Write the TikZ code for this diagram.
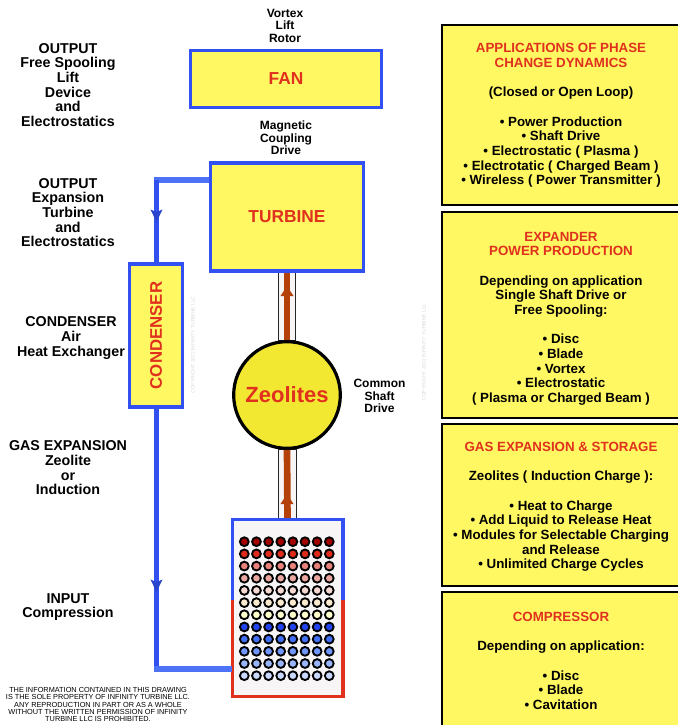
\documentclass[tikz,border=0pt]{standalone}
\usepackage{fontspec}
\setmainfont{Liberation Sans}
\definecolor{panelY}{HTML}{FFF862}
\definecolor{boxBlue}{HTML}{3350F2}
\definecolor{flowBlue}{HTML}{3150F0}
\definecolor{pipeLt}{HTML}{4D72F5}
\definecolor{txtRed}{HTML}{E0301E}
\definecolor{shaftC}{HTML}{B5410A}
\definecolor{ballY}{HTML}{F2E832}
\definecolor{tubeC}{HTML}{F7F5F5}
\definecolor{cmpR}{HTML}{E0301E}
\pgfdeclarelayer{bg}
\pgfsetlayers{bg,main}
\tikzset{
 x=0.75pt,y=-0.75pt,
 yblock/.style={draw=boxBlue,line width=2.6pt,fill=panelY,inner sep=0pt,align=center,font=\fontsize{13}{15}\bfseries\selectfont,text=txtRed},
 panelframe/.style={draw=black,line width=2pt},
 ptxt/.style={align=center,font=\fontsize{10}{11}\bfseries\selectfont,text=black,inner sep=0pt},
 ltxt/.style={align=center,font=\fontsize{10.7}{11}\bfseries\selectfont,text=black,inner sep=0pt},
 stxt/.style={align=center,font=\fontsize{9}{9.4}\bfseries\selectfont,text=black,inner sep=0pt},
 flow/.style={draw=flowBlue,line width=3.75pt},
 flowlt/.style={draw=pipeLt,line width=4.3pt},
 tube/.style={draw=black!85,line width=0.7pt,fill=tubeC},
 shaft/.style={draw=shaftC,line width=5pt},
 shafttip/.style={fill=shaftC,draw=none},
 flowtip/.style={fill=flowBlue!85!black,draw=none},
 dot/.style={circle,draw=black,line width=1.4pt,minimum size=6.6pt,inner sep=0pt},
 copyr/.style={rotate=90,font=\fontsize{3.7}{4}\selectfont,inner sep=0pt,text=black!15},
}
\begin{document}
\begin{tikzpicture}
\path[use as bounding box] (0,0) rectangle (678,725);
\clip (0,0) rectangle (678,725);
\begin{pgfonlayer}{bg}
\fill[white] (0,0) rectangle (678,725);
\end{pgfonlayer}

% right panels
\fill[panelY] (442,25) rectangle (690,205);
\draw[panelframe] (690,25) -- (442,25) -- (442,205) -- (690,205);
\fill[panelY] (442,212) rectangle (690,418);
\draw[panelframe] (690,212) -- (442,212) -- (442,418) -- (690,418);
\fill[panelY] (442,424) rectangle (690,586);
\draw[panelframe] (690,424) -- (442,424) -- (442,586) -- (690,586);
\fill[panelY] (442,592) rectangle (690,735);
\draw[panelframe] (690,592) -- (442,592) -- (442,735);

\node[ptxt] (p1) at (561,115.5) {\textcolor{txtRed}{APPLICATIONS OF PHASE}\\\textcolor{txtRed}{CHANGE DYNAMICS}\\[11pt](Closed or Open Loop)\\[11pt]• Power Production\\• Shaft Drive\\• Electrostatic ( Plasma )\\• Electrotatic ( Charged Beam )\\• Wireless ( Power Transmitter )};
\node[ptxt] (p2) at (561,318.5) {\textcolor{txtRed}{EXPANDER}\\\textcolor{txtRed}{POWER PRODUCTION}\\[11pt]Depending on application\\Single Shaft Drive or\\Free Spooling:\\[11pt]• Disc\\• Blade\\• Vortex\\• Electrostatic\\( Plasma or Charged Beam )};
\node[ptxt] (p3) at (561,507) {\textcolor{txtRed}{GAS EXPANSION \& STORAGE}\\[11pt]Zeolites ( Induction Charge ):\\[11pt]• Heat to Charge\\• Add Liquid to Release Heat\\• Modules for Selectable Charging\\and Release\\• Unlimited Charge Cycles};
\node[ptxt] (p4) at (561,661) {\textcolor{txtRed}{COMPRESSOR}\\[11pt]Depending on application:\\[11pt]• Disc\\• Blade\\• Cavitation};

% blocks
\node[yblock,minimum width=143pt,minimum height=42.5pt] (fan) at (286,79) {FAN};
\node[yblock,minimum width=115pt,minimum height=81pt] (turbine) at (287,217) {TURBINE};
\node[yblock,minimum width=40pt,minimum height=107pt] (condenser) at (156,335.5) {\rotatebox{90}{\fontsize{12.6}{15}\bfseries\selectfont CONDENSER}};
\node[circle,fill=ballY,draw=black,line width=2.4pt,minimum size=80pt,inner sep=0pt,text=txtRed,font=\fontsize{16.5}{20}\bfseries\selectfont] (zeo) at (287,395) {Zeolites};

% compressor
\coordinate (cmid) at (0,600);
\node[inner sep=0pt,minimum width=82.5pt,minimum height=132pt,fill=tubeC] (compressor) at (287.5,608) {};
\draw[boxBlue,line width=2.6pt] (compressor.west |- cmid) -- (compressor.north west) -- (compressor.north east) -- (compressor.east |- cmid);
\draw[cmpR,line width=2.6pt] (compressor.west |- cmid) -- (compressor.south west) -- (compressor.south east) -- (compressor.east |- cmid);

% tubes and shafts
\begin{pgfonlayer}{bg}
\filldraw[tube] ([xshift=-6.5pt]turbine.south) rectangle ([xshift=6.5pt]zeo.north);
\filldraw[tube] ([xshift=-6.5pt]zeo.south) rectangle ([xshift=6.5pt]compressor.north);
\draw[shaft] (zeo.north) -- (turbine.south);
\draw[shaft] (compressor.north) -- (zeo.south);
\end{pgfonlayer}
\fill[shafttip] (287,286) -- (280.5,296) -- (293.5,296) -- cycle;
\fill[shafttip] (287,494) -- (280.5,504) -- (293.5,504) -- cycle;

% flows
\coordinate (c1) at (156,180);
\coordinate (c2) at (156,669);
\draw[flowlt] (turbine.west |- c1) -- ([xshift=-1.8pt]c1);
\draw[flow] (c1) -- (condenser.north);
\draw[flow] (condenser.south) -- (c2);
\draw[flowlt] ([xshift=-1.8pt]c2) -- (compressor.west |- c2);
\fill[flowtip] (156.5,222) -- (150.5,209.5) -- (156.5,212) -- (162.5,209.5) -- cycle;
\fill[flowtip] (156.5,592) -- (150.5,579.5) -- (156.5,582) -- (162.5,579.5) -- cycle;

% dots
\foreach \c [count=\r from 0] in {A30000,E02A1A,E8827A,EBA8A0,F5D8D2,FDEBCF,FFFFCC,2244F0,4270F8,7096FB,98B4FC,C8D8FF}{
 \definecolor{dc}{HTML}{\c}
 \foreach \q in {0,...,7}{
  \node[dot,fill=dc] (d\r\q) at ({244.3+12.14*\q},{541.7+12.18*\r}) {};
 }
}

% labels
\node[stxt] (rotor) at (285,25.5) {Vortex\\Lift\\Rotor};
\node[stxt] (mag) at (286,138) {Magnetic\\Coupling\\Drive};
\node[stxt] (csd) at (379.5,396) {Common\\Shaft\\Drive};
\node[ltxt] (o1) at (68,85) {OUTPUT\\Free Spooling\\Lift\\Device\\and\\Electrostatics};
\node[ltxt] (o2) at (68,212.5) {OUTPUT\\Expansion\\Turbine\\and\\Electrostatics};
\node[ltxt] (cd) at (71,338) {CONDENSER\\Air\\Heat Exchanger};
\node[ltxt] (ge) at (68,468) {GAS EXPANSION\\Zeolite\\or\\Induction};
\node[ltxt] (in) at (68,607) {INPUT\\Compression};
\node[align=center,inner sep=0pt,font=\fontsize{5.5}{5.6}\selectfont] (legal) at (98,704.5) {THE INFORMATION CONTAINED IN THIS DRAWING\\IS THE SOLE PROPERTY OF INFINITY TURBINE LLC.\\ANY REPRODUCTION IN PART OR AS A WHOLE\\WITHOUT THE WRITTEN PERMISSION OF INFINITY\\TURBINE LLC IS PROHIBITED.};
\node[copyr] (cr1) at (193,345) {COPYRIGHT 2022 INFINITY TURBINE  LLC};
\node[copyr] (cr2) at (424,352) {COPYRIGHT 2022 INFINITY TURBINE  LLC};
\end{tikzpicture}
\end{document}
